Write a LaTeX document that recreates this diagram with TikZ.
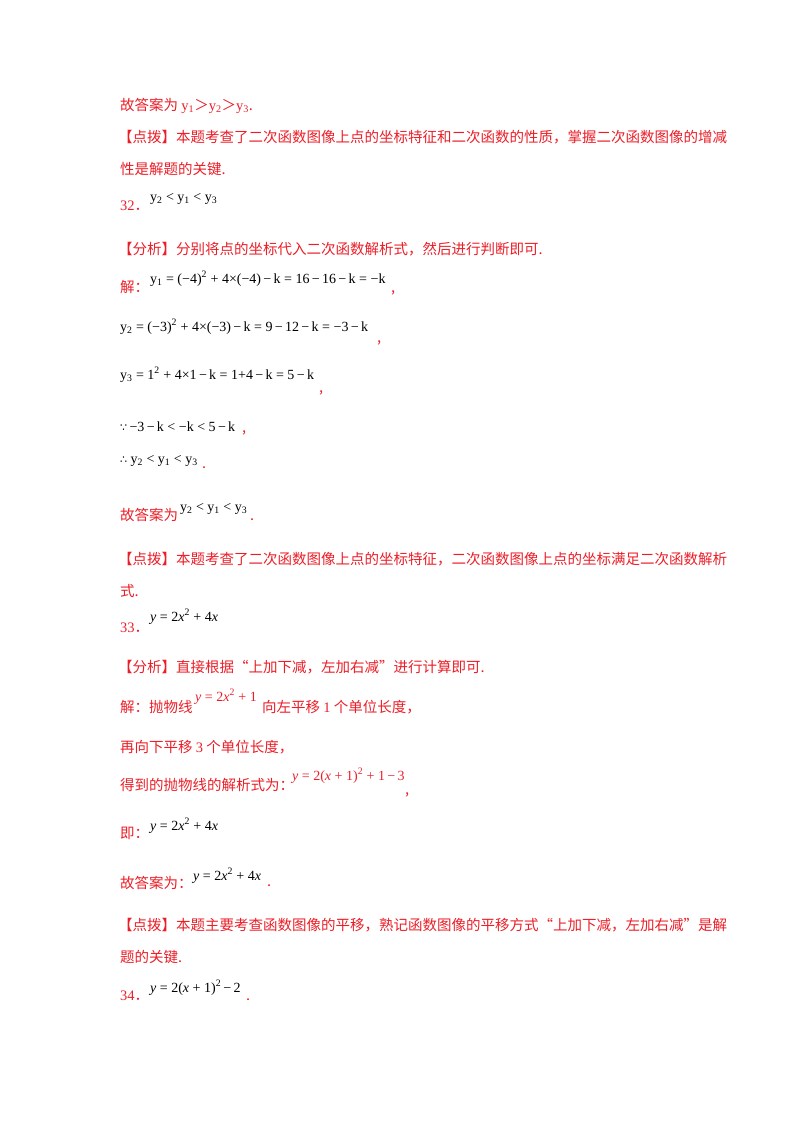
\documentclass[tikz,border=0pt]{standalone}
\usepackage{fontspec}
\setmainfont{Liberation Serif}
\newfontfamily\cjk{Noto Sans CJK SC}
\newfontfamily\djv{DejaVu Sans}
\definecolor{rd}{RGB}{235,30,40}
\newcommand{\sub}[1]{\textsubscript{#1}}
\newcommand{\sps}[1]{\textsuperscript{#1}}
\newcommand{\mi}{\,−\,}
\newcommand{\gt}{{\cjk ＞}}
\newcommand{\dt}{{\cjk ．}}
\begin{document}
\begin{tikzpicture}[x=1pt,y=-1pt,
  t/.style={anchor=base west,inner sep=0pt,text=rd,font=\cjk\fontsize{14.5}{16}\selectfont},
  m/.style={anchor=base west,inner sep=0pt,text=black,font=\fontsize{14}{16}\selectfont}]
\useasboundingbox (0,0) rectangle (800,1132);
\node[t] (a1) at (120,110) {故答案为 {\rmfamily y\sub1}\gt{\rmfamily y\sub2}\gt{\rmfamily y\sub3}.};
\node[t] (a2) at (118,142) {【点拨】本题考查了二次函数图像上点的坐标特征和二次函数的性质，掌握二次函数图像的增减};
\node[t] (a3) at (120,174) {性是解题的关键.};
\node[t] (a4) at (120,210) {\rmfamily 32\dt};
\node[m] (m4) at (150,201) {y\sub2 < y\sub1 < y\sub3};
\node[t] (a5) at (118,254) {【分析】分别将点的坐标代入二次函数解析式，然后进行判断即可.};
\node[t] (a6) at (120,292) {解：};
\node[m] (m6) at (150,283) {y\sub1 = (−4)\sps2 + 4×(−4)\mi k = 16\mi16\mi k = −k};
\node[t] (c6) at (391,292) {,};
\node[m] (m7) at (120,331) {y\sub2 = (−3)\sps2 + 4×(−3)\mi k = 9\mi12\mi k = −3\mi k};
\node[t] (c7) at (377,342) {,};
\node[m] (m8) at (120,379) {y\sub3 = 1\sps2 + 4×1\mi k = 1+4\mi k = 5\mi k};
\node[t] (c8) at (319,392) {,};
\node[m] (m9) at (120,431) {{\djv\fontsize{11}{13}\selectfont ∵}\,−3\mi k < −k < 5\mi k};
\node[t] (c9) at (242,432) {,};
\node[m] (m10) at (120,463) {{\djv\fontsize{11}{13}\selectfont ∴} y\sub2 < y\sub1 < y\sub3};
\node[t] (c10) at (202,468) {.};
\node[t] (a11) at (120,520) {故答案为};
\node[m] (m11) at (180,511) {y\sub2 < y\sub1 < y\sub3};
\node[t] (c11) at (250,520) {.};
\node[t] (a12) at (118,564) {【点拨】本题考查了二次函数图像上点的坐标特征，二次函数图像上点的坐标满足二次函数解析};
\node[t] (a13) at (120,596) {式.};
\node[t] (a14) at (120,632) {\rmfamily 33\dt};
\node[m] (m14) at (150,621) {\textit{y} = 2\textit{x}\sps2 + 4\textit{x}};
\node[t] (a15) at (118,672) {【分析】直接根据“上加下减，左加右减”进行计算即可.};
\node[t] (a16) at (120,712) {解：抛物线};
\node[m,text=rd] (m16) at (195,701) {\textit{y} = 2\textit{x}\sps2 + 1};
\node[t] (b16) at (262,712) {向左平移 {\rmfamily 1} 个单位长度，};
\node[t] (a17) at (120,752) {再向下平移 {\rmfamily 3} 个单位长度，};
\node[t] (a18) at (120,790) {得到的抛物线的解析式为：};
\node[m,text=rd] (m18) at (292,780) {\textit{y} = 2(\textit{x} + 1)\sps2 + 1\mi3};
\node[t] (c18) at (405,794) {,};
\node[t] (a19) at (120,838) {即：};
\node[m] (m19) at (150,830) {\textit{y} = 2\textit{x}\sps2 + 4\textit{x}};
\node[t] (a20) at (120,888) {故答案为：};
\node[m] (m20) at (193,880) {\textit{y} = 2\textit{x}\sps2 + 4\textit{x}};
\node[t] (c20) at (267,886) {.};
\node[t] (a21) at (118,930) {【点拨】本题主要考查函数图像的平移，熟记函数图像的平移方式“上加下减，左加右减”是解};
\node[t] (a22) at (120,962) {题的关键.};
\node[t] (a23) at (120,1000) {\rmfamily 34\dt};
\node[m] (m23) at (150,992) {\textit{y} = 2(\textit{x} + 1)\sps2\mi2};
\node[t] (c23) at (246,1000) {.};
\end{tikzpicture}
\end{document}
